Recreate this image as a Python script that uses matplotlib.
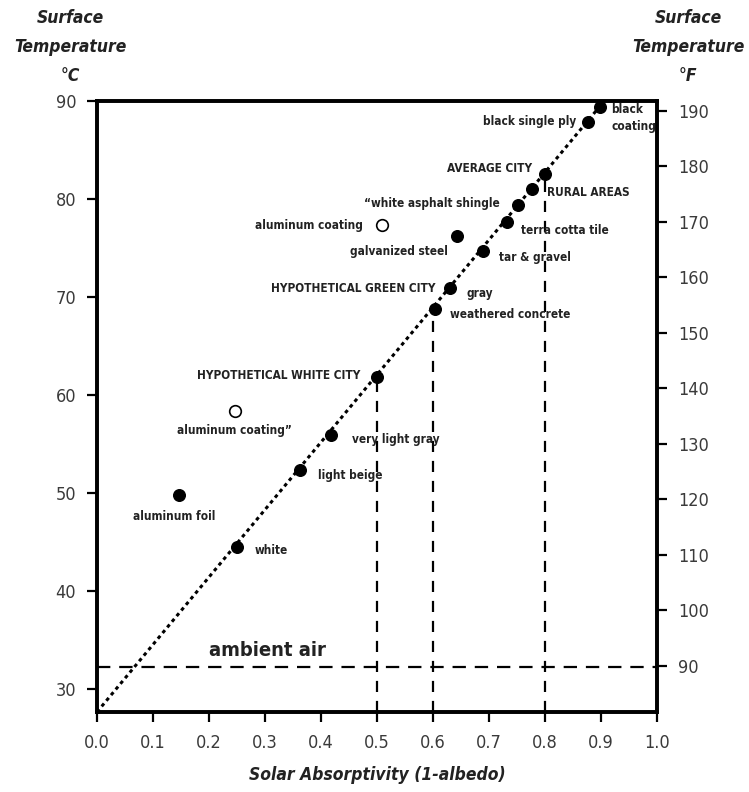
import matplotlib
matplotlib.use("Agg")
import matplotlib.pyplot as plt
from matplotlib import font_manager as fm

# ---- data ----
# filled points: (absorptivity, surface temp C)
solid_x = [0.898, 0.877, 0.800, 0.777, 0.752, 0.732, 0.643, 0.689, 0.630, 0.604,
           0.500, 0.418, 0.363, 0.146, 0.250]
solid_y = [89.4, 87.9, 82.6, 81.0, 79.4, 77.7, 76.2, 74.7, 70.9, 68.8,
           61.8, 55.9, 52.3, 49.8, 44.5]
# open points (aluminum coatings)
open_x = [0.509, 0.246]
open_y = [77.3, 58.4]

# dotted trend line end points
trend_x = [0.0, 0.9]
trend_y = [27.65, 89.6]

# dashed drop lines: x position and top value
drop_x = [0.5, 0.6, 0.8]
drop_top = [61.8, 68.8, 82.6]
ambient_c = 32.2

# labels: text, x, y, horizontal alignment
labels = [
    ("black\ncoating", 0.918, 88.3, "left"),
    ("black single ply", 0.855, 87.9, "right"),
    ("AVERAGE CITY", 0.777, 83.1, "right"),
    ("RURAL AREAS", 0.803, 80.7, "left"),
    ("\u201cwhite asphalt shingle", 0.72, 79.5, "right"),
    ("terra cotta tile", 0.758, 76.8, "left"),
    ("aluminum coating", 0.475, 77.3, "right"),
    ("galvanized steel", 0.627, 74.6, "right"),
    ("tar & gravel", 0.717, 74.0, "left"),
    ("HYPOTHETICAL GREEN CITY", 0.604, 70.9, "right"),
    ("gray", 0.659, 70.4, "left"),
    ("weathered concrete", 0.630, 68.2, "left"),
    ("HYPOTHETICAL WHITE CITY", 0.470, 62.0, "right"),
    ("aluminum coating\u201d", 0.246, 56.4, "center"),
    ("very light gray", 0.455, 55.5, "left"),
    ("light beige", 0.395, 51.8, "left"),
    ("aluminum foil", 0.1375, 47.6, "center"),
    ("white", 0.282, 44.1, "left"),
]

x_ticks = [0.0, 0.1, 0.2, 0.3, 0.4, 0.5, 0.6, 0.7, 0.8, 0.9, 1.0]
c_ticks = [30, 40, 50, 60, 70, 80, 90]
f_ticks = [90, 100, 110, 120, 130, 140, 150, 160, 170, 180, 190]
c_lim = (27.65, 90.0)
f_lim = (81.7, 191.8)

# pick a narrow face if one is installed
names = {f.name for f in fm.fontManager.ttflist}
if "Liberation Sans Narrow" in names:
    fam, stretch = "Liberation Sans Narrow", "normal"
else:
    fam, stretch = "DejaVu Sans", "condensed"
plt.rcParams["font.family"] = fam
plt.rcParams["font.stretch"] = stretch

fig = plt.figure(figsize=(7.49, 7.92), dpi=100)
ax = fig.add_axes([97 / 749, 1 - 712 / 792, 560 / 749, 611 / 792])

ax.plot(trend_x, trend_y, color="black", linestyle=(0, (1.2, 1.2)), lw=2.2, zorder=2)
for x, top in zip(drop_x, drop_top):
    ax.plot([x, x], [c_lim[0], top], color="black", lw=1.6,
            linestyle=(0, (5, 4)), zorder=1)
ax.axhline(ambient_c, color="black", lw=1.6, linestyle=(0, (6, 4)), zorder=1)
ax.text(0.2, 33.0, "ambient air", fontsize=14.5, fontweight="bold",
        va="bottom", ha="left", color="#222222")

ax.scatter(solid_x, solid_y, s=70, color="black", zorder=3, clip_on=False)
ax.scatter(open_x, open_y, s=70, facecolor="white", edgecolor="black",
           linewidths=1.2, zorder=3)

for txt, x, y, ha in labels:
    ax.text(x, y, txt, fontsize=8.5, fontweight="bold",
            ha=ha, va="center", color="#222222", linespacing=1.4)

ax.set_xlim(0, 1.0)
ax.set_ylim(*c_lim)
ax.set_xticks(x_ticks)
ax.set_xticklabels([f"{v:.1f}" for v in x_ticks])
ax.set_yticks(c_ticks)

ax2 = ax.twinx()
ax2.set_ylim(*f_lim)
ax2.set_yticks(f_ticks)

for a in (ax, ax2):
    for s in a.spines.values():
        s.set_linewidth(2.6)
    a.tick_params(direction="out", length=7, width=1.6, labelsize=13,
                  colors="black", labelcolor="#3a3a3a")
ax.tick_params(axis="x", pad=9)
ax.tick_params(axis="y", pad=8)
ax2.tick_params(axis="y", pad=8)

title_kw = dict(fontsize=12.5, fontweight="bold", fontstyle="italic",
                ha="center", va="top", linespacing=1.8, color="#222222")
fig.text(70 / 749, 1 - 9 / 792, "Surface\nTemperature\n\u00b0C", **title_kw)
fig.text(688 / 749, 1 - 9 / 792, "Surface\nTemperature\n\u00b0F", **title_kw)
fig.text(377 / 749, 1 - 775 / 792, "Solar Absorptivity (1-albedo)", fontsize=12.5,
         fontweight="bold", fontstyle="italic",
         ha="center", va="center", color="#222222")

fig.savefig("out.png", dpi=100)
